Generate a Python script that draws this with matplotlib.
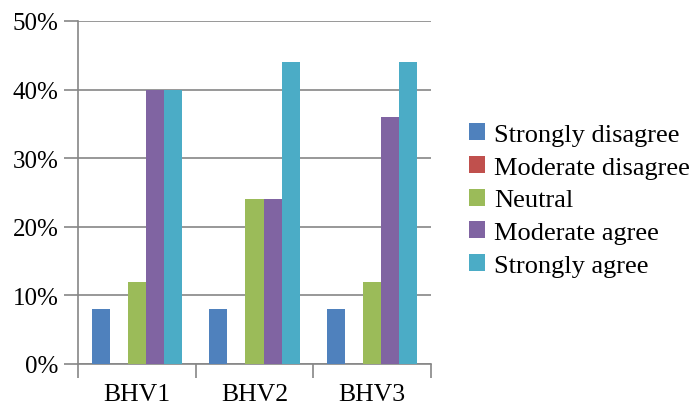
import numpy as np
import matplotlib.pyplot as plt
from matplotlib.ticker import PercentFormatter
from matplotlib.font_manager import FontProperties

categories = ['BHV1', 'BHV2', 'BHV3']
series = ['Strongly disagree', 'Moderate disagree', 'Neutral', 'Moderate agree', 'Strongly agree']
strongly_disagree = [8, 8, 8]
moderate_disagree = [0, 0, 0]
neutral = [12, 24, 12]
moderate_agree = [40, 24, 36]
strongly_agree = [40, 44, 44]
colors = ['#4F81BD', '#C0504D', '#9BBB59', '#8064A2', '#4BACC6']

values = [strongly_disagree, moderate_disagree, neutral, moderate_agree, strongly_agree]

plt.rcParams['font.family'] = ['Liberation Serif', 'DejaVu Serif']
grid_col = '#868686'

fig = plt.figure(figsize=(6.96, 4.10), dpi=100)
ax = fig.add_axes([78 / 696, 1 - 365 / 410, (431 - 78) / 696, (365 - 22) / 410])

x = np.arange(len(categories))
w = 1 / 6.5
for i, (name, vals, c) in enumerate(zip(series, values, colors)):
    ax.bar(x + (i - 2) * w, vals, w, color=c, label=name, zorder=3)

ax.set_xlim(-0.5, 2.5)
ax.set_ylim(0, 50)
ax.set_yticks(np.arange(0, 51, 10))
ax.yaxis.set_major_formatter(PercentFormatter(decimals=0))
ax.set_xticks(x)
ax.set_xticklabels(categories)
ax.set_xticks([-0.5, 0.5, 1.5, 2.5], minor=True)
ax.grid(axis='y', color=grid_col, linewidth=1.2, zorder=0)

for s in ['top', 'right']:
    ax.spines[s].set_visible(False)
for s in ['left', 'bottom']:
    ax.spines[s].set_color(grid_col)
    ax.spines[s].set_linewidth(1.2)

ax.tick_params(axis='y', length=10, width=1.2, color=grid_col, labelsize=18, pad=4)
ax.tick_params(axis='x', which='major', length=0, labelsize=18.5, pad=14)
ax.tick_params(axis='x', which='minor', length=10, width=1.2, color=grid_col)

leg_font = FontProperties(family='Liberation Serif', size=19)
ax.legend(loc='center left', bbox_to_anchor=(458 / 696, 1 - 201 / 410),
          bbox_transform=fig.transFigure, frameon=False, prop=leg_font,
          handlelength=0.62, handleheight=0.62, handletextpad=0.35,
          labelspacing=0.37, borderaxespad=0)

fig.savefig('out.png', dpi=100)
